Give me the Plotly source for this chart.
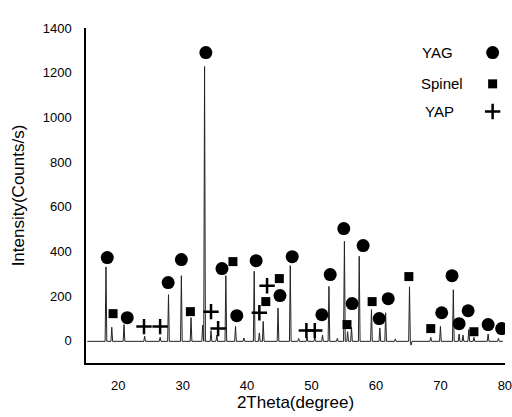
import plotly.graph_objects as go

# ---- data ----
peak_2theta = [18.1, 19.0, 20.9, 24.1, 26.5, 27.8, 29.8, 31.3, 33.1, 33.4, 34.4, 35.3,
               36.7, 38.2, 39.5, 41.1, 41.9, 42.5, 44.8, 46.7, 48.0, 49.3, 50.5, 51.7,
               52.7, 54.0, 55.1, 55.6, 56.2, 57.4, 59.3, 60.6, 61.5, 63.0, 65.2, 65.45,
               68.5, 70.0, 72.0, 72.9, 73.5, 74.4, 75.2, 77.4, 79.0]
peak_intensity = [330, 60, 72, 20, 15, 206, 291, 103, 70, 1228, 45, 25,
                  291, 64, 12, 311, 35, 86, 146, 336, 10, 15, 12, 25,
                  243, 10, 445, 40, 60, 378, 139, 57, 125, 8, 241, -20,
                  15, 64, 228, 30, 25, 50, 15, 30, 10]
baseline_2theta = [15.2, 79.7]
baseline_level = -3

yag_x = [18.3, 21.4, 27.75, 29.8, 33.6, 36.1, 38.4, 41.4, 45.1, 47.0, 51.6, 52.9,
         55.0, 56.3, 58.0, 60.5, 61.9, 70.2, 71.8, 72.9, 74.3, 77.4, 79.5]
yag_y = [372, 103, 260, 363, 1290, 323, 112, 358, 202, 376, 116, 296,
         502, 166, 426, 99, 188, 125, 291, 76, 134, 72, 54]
spinel_x = [19.2, 31.2, 37.8, 42.9, 45.0, 55.5, 59.4, 65.1, 68.5, 75.2]
spinel_y = [121, 130, 354, 175, 278, 72, 175, 287, 54, 40]
yap_x = [24.0, 26.5, 34.4, 35.5, 41.9, 43.1, 49.2, 50.5]
yap_y = [63, 63, 130, 54, 125, 246, 45, 45]

legend_names = ["YAG", "Spinel", "YAP"]
legend_text_x = [69.5, 70.2, 69.8]
legend_y = [1290, 1150, 1026]
legend_sym_x = 78.1

x_ticks = [20, 30, 40, 50, 60, 70, 80]
y_ticks = [0, 200, 400, 600, 800, 1000, 1200, 1400]

# ---- build the pattern line from the peak list ----
hw = 0.13
line_x = [baseline_2theta[0]]
line_y = [baseline_level]
for px, py in sorted(zip(peak_2theta, peak_intensity)):
    line_x += [px - hw, px, px + hw]
    line_y += [baseline_level, py, baseline_level]
line_x.append(baseline_2theta[1])
line_y.append(baseline_level)

FONT = "Liberation Sans, Arial, sans-serif"
CIRCLE = dict(symbol="circle", size=13, color="black")
SQUARE = dict(symbol="square", size=9, color="black")
PLUS = dict(symbol="cross-thin", size=11, color="black", line=dict(width=2.5, color="black"))

fig = go.Figure()
fig.add_trace(go.Scatter(x=line_x, y=line_y, mode="lines",
                         line=dict(color="#222222", width=1), showlegend=False,
                         hoverinfo="skip"))
fig.add_trace(go.Scatter(x=yag_x, y=yag_y, mode="markers", name="YAG", marker=CIRCLE))
fig.add_trace(go.Scatter(x=spinel_x, y=spinel_y, mode="markers", name="Spinel", marker=SQUARE))
fig.add_trace(go.Scatter(x=yap_x, y=yap_y, mode="markers", name="YAP", marker=PLUS))

# legend (text left, symbol right)
for ly, mk in zip(legend_y, [CIRCLE, SQUARE, PLUS]):
    fig.add_trace(go.Scatter(x=[legend_sym_x], y=[ly], mode="markers", marker=mk,
                             hoverinfo="skip"))
for name, lx, ly in zip(legend_names, legend_text_x, legend_y):
    fig.add_annotation(x=lx, y=ly, text=name, showarrow=False,
                       xanchor="center", yanchor="middle",
                       font=dict(family=FONT, size=15, color="black"))

fig.update_layout(
    width=512, height=417,
    margin=dict(l=86, r=7, t=28, b=54, autoexpand=False),
    paper_bgcolor="white", plot_bgcolor="white",
    font=dict(family=FONT, size=13, color="black"),
    showlegend=False,
)
fig.update_xaxes(range=[15, 80.02], tickvals=x_ticks, ticks="", showgrid=False,
                 zeroline=False, showline=True, linecolor="black", linewidth=1.5,
                 ticklabelstandoff=10, ticklabeloverflow="allow", automargin=False,
                 title=dict(text="2Theta(degree)", font=dict(size=17), standoff=2))
fig.update_yaxes(range=[-100, 1400.1], tickvals=y_ticks, ticks="", showgrid=False,
                 zeroline=False, showline=True, linecolor="black", linewidth=1.5,
                 ticklabelstandoff=10, automargin=False,
                 title=dict(text="Intensity(Counts/s)", font=dict(size=17), standoff=14))

fig.write_html("out.html", config={"displayModeBar": False},
               post_script="document.body.style.margin='0';document.body.style.padding='0';")
